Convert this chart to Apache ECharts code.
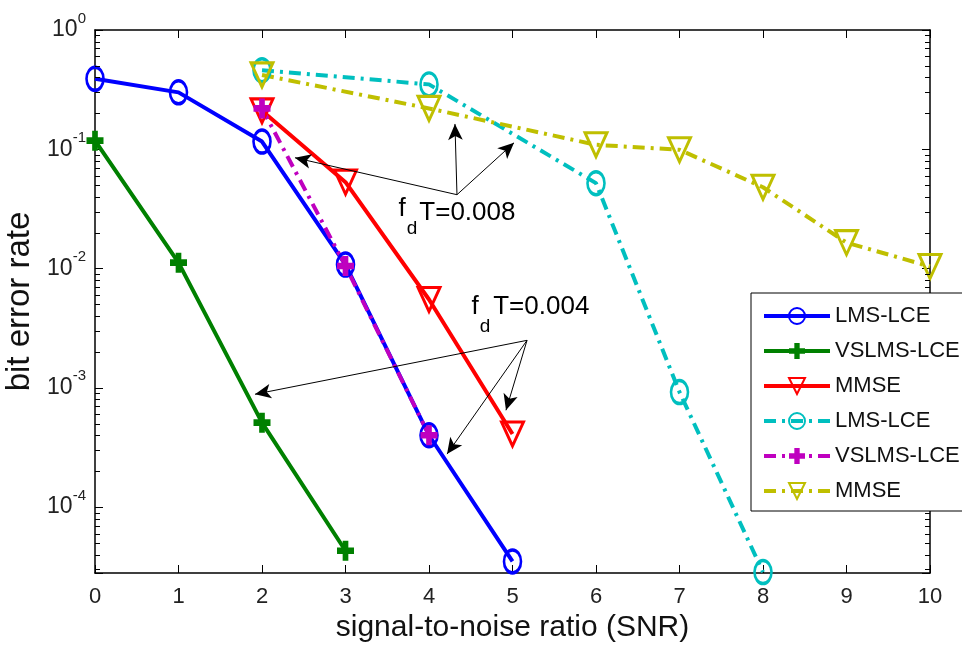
<!DOCTYPE html>
<html>
<head>
<meta charset="utf-8">
<script src="https://cdn.jsdelivr.net/npm/echarts@6/dist/echarts.min.js"></script>
<style>
  html, body { margin: 0; padding: 0; background: #fff; }
  #main { width: 962px; height: 653px; }
</style>
</head>
<body>
<div id="main"></div>
<script>
// ---- Data: bit error rate versus SNR ----
// fd*T = 0.004 (solid lines)
const snrLmsA    = [0, 1, 2, 3, 4, 5];
const berLmsA    = [0.39, 0.30, 0.116, 0.0108, 4.0e-4, 3.5e-5];
const snrVslmsA  = [0, 1, 2, 3];
const berVslmsA  = [0.118, 0.0112, 5.1e-4, 4.3e-5];
const snrMmseA   = [2, 3, 4, 5];
const berMmseA   = [0.21, 0.053, 5.5e-3, 4.1e-4];
// fd*T = 0.008 (dash-dot lines)
const snrLmsB    = [2, 4, 6, 7, 8];
const berLmsB    = [0.46, 0.35, 0.052, 9.2e-4, 2.85e-5];
const snrVslmsB  = [2, 3, 4];
const berVslmsB  = [0.22, 0.0105, 4.0e-4];
const snrMmseB   = [2, 4, 6, 7, 8, 9, 10];
const berMmseB   = [0.42, 0.22, 0.109, 0.099, 0.048, 0.0165, 0.0104];

const legendNames = ['LMS-LCE', 'VSLMS-LCE', 'MMSE', 'LMS-LCE', 'VSLMS-LCE', 'MMSE'];
const xTitle = 'signal-to-noise ratio (SNR)';
const yTitle = 'bit error rate';

// Axis ranges
const X_MIN = 0, X_MAX = 10, X_STEP = 1;
const Y_MIN = 2.8e-5, Y_MAX = 1;
// Minor log ticks: mantissas 2..9 in each decade
const minorMantissas = [2, 3, 4, 5, 6, 7, 8, 9];
const minorDecades = [-5, -4, -3, -2, -1];

// Annotation anchors (data units)
const noteSourceB = [4.335, 0.0416];
const noteTipsB   = [[2.395, 0.0849], [4.311, 0.163], [5.018, 0.1133]];
const noteSourceA = [5.174, 2.50e-3];
const noteTipsA   = [[1.916, 8.83e-4], [4.922, 6.48e-4], [4.216, 2.78e-4]];
const noteTextB = { f: [3.677, 0.0318], d: [3.796, 0.0216], t: [4.46, 0.0294], label: 'T=0.008' };
const noteTextA = { f: [4.551, 4.81e-3], d: [4.671, 3.27e-3], t: [5.345, 4.76e-3], label: 'T=0.004' };

// ---- Styling ----
const FONT = "'Liberation Sans', Arial, Helvetica, sans-serif";
const C = { b: '#0000ff', g: '#008000', r: '#ff0000', c: '#00bfbf', m: '#bf00bf', y: '#bfbf00' };
const DASHDOT = [12, 6, 3, 6];
const PLUS = 'path://M-1,-3L1,-3L1,-1L3,-1L3,1L1,1L1,3L-1,3L-1,1L-3,1L-3,-1L-1,-1Z';

const zip = (xs, ys) => xs.map((x, i) => [x, ys[i]]);

function markerStyle(kind, color) {
  if (kind === 'o') {
    return { symbol: 'circle', symbolSize: [17, 23], symbolRotate: 0,
      itemStyle: { color: 'rgba(0,0,0,0)', borderColor: color, borderWidth: 3 } };
  }
  if (kind === 'v') {
    return { symbol: 'triangle', symbolSize: [22, 24], symbolRotate: 180,
      itemStyle: { color: 'rgba(0,0,0,0)', borderColor: color, borderWidth: 3 } };
  }
  return { symbol: PLUS, symbolSize: [17, 20], symbolRotate: 0,
    itemStyle: { color: color, borderWidth: 0 } };
}

function lineSeries(id, legendIdx, xs, ys, color, kind, dashed) {
  return Object.assign({
    id: id,
    name: legendNames[legendIdx] + '|' + id,
    type: 'line',
    data: zip(xs, ys),
    showAllSymbol: true,
    clip: false,
    animation: false,
    silent: true,
    emphasis: { disabled: true },
    lineStyle: { color: color, width: 4, type: dashed ? DASHDOT : 'solid' },
    z: 3
  }, markerStyle(kind, color));
}

const series = [
  lineSeries('lmsA',   0, snrLmsA,   berLmsA,   C.b, 'o', false),
  lineSeries('vslmsA', 1, snrVslmsA, berVslmsA, C.g, '+', false),
  lineSeries('mmseA',  2, snrMmseA,  berMmseA,  C.r, 'v', false),
  lineSeries('lmsB',   3, snrLmsB,   berLmsB,   C.c, 'o', true),
  lineSeries('vslmsB', 4, snrVslmsB, berVslmsB, C.m, '+', true),
  lineSeries('mmseB',  5, snrMmseB,  berMmseB,  C.y, 'v', true)
];

// Arrows and "f_d T" notes
const arrowPairs = noteTipsB.map(t => [noteSourceB, t]).concat(noteTipsA.map(t => [noteSourceA, t]));
function notePoints(n) {
  const item = (coord, text, size) => ({
    coord: coord, name: text, symbol: 'circle', symbolSize: 1,
    itemStyle: { color: 'rgba(0,0,0,0)' },
    label: { show: true, position: 'inside', formatter: '{b}', fontSize: size, color: '#000', fontFamily: FONT }
  });
  return [item(n.f, 'f', 26), item(n.d, 'd', 19), item(n.t, n.label, 26)];
}
series.push({
  id: 'notes',
  type: 'line',
  data: [],
  silent: true,
  animation: false,
  markLine: {
    silent: true, animation: false,
    symbol: ['none', 'arrow'], symbolSize: [11, 16],
    label: { show: false },
    emphasis: { disabled: true },
    lineStyle: { color: '#000', width: 1, type: 'solid' },
    data: arrowPairs.map(p => [{ coord: p[0] }, { coord: p[1] }])
  },
  markPoint: {
    silent: true, animation: false,
    data: notePoints(noteTextB).concat(notePoints(noteTextA))
  },
  z: 5
});

// Minor log ticks on both vertical sides of the box
const minorTicks = [];
minorDecades.forEach(e => minorMantissas.forEach(m => {
  const v = m * Math.pow(10, e);
  if (v >= Y_MIN && v <= Y_MAX) minorTicks.push([X_MIN, v]);
}));
series.push({
  id: 'minorTicks',
  type: 'custom',
  data: minorTicks,
  silent: true,
  animation: false,
  renderItem: function (params, api) {
    const v = api.value(1);
    const l = api.coord([X_MIN, v]);
    const r = api.coord([X_MAX, v]);
    const y = Math.round(l[1]) + 0.5;
    return {
      type: 'group',
      children: [
        { type: 'line', shape: { x1: l[0], y1: y, x2: l[0] + 5, y2: y }, style: { stroke: '#000', lineWidth: 1 } },
        { type: 'line', shape: { x1: r[0] - 5, y1: y, x2: r[0], y2: y }, style: { stroke: '#000', lineWidth: 1 } }
      ]
    };
  },
  z: 6
});

function logLabel(v) {
  const lg = Math.log10(v);
  const e = Math.round(lg);
  if (Math.abs(lg - e) > 1e-6) return '';
  return '{b|10}{s|' + (e === 0 ? '0' : '-' + (-e)) + '}';
}

const axisLine = { show: true, onZero: false, lineStyle: { color: '#000', width: 1.5 } };
const axisTick = { show: true, inside: true, length: 8, lineStyle: { color: '#000', width: 1 } };

const option = {
  backgroundColor: '#fff',
  animation: false,
  textStyle: { fontFamily: FONT },
  grid: { left: 95, right: 32, top: 30, bottom: 80, containLabel: false, outerBoundsMode: 'none' },
  xAxis: [
    {
      type: 'value', min: X_MIN, max: X_MAX, interval: X_STEP, position: 'bottom',
      axisLine: axisLine, axisTick: axisTick,
      axisLabel: { fontSize: 22, color: '#222', margin: 13, fontFamily: FONT },
      splitLine: { show: false },
      name: xTitle, nameLocation: 'middle', nameGap: 40,
      nameTextStyle: { fontSize: 30, color: '#111', fontFamily: FONT }
    },
    {
      type: 'value', min: X_MIN, max: X_MAX, interval: X_STEP, position: 'top',
      axisLine: axisLine, axisTick: axisTick,
      axisLabel: { show: false }, splitLine: { show: false }
    }
  ],
  yAxis: [
    {
      type: 'log', logBase: 10, min: Y_MIN, max: Y_MAX, position: 'left',
      axisLine: axisLine, axisTick: axisTick,
      axisLabel: {
        formatter: logLabel, margin: 9, color: '#222', fontFamily: FONT,
        rich: {
          b: { fontSize: 23, lineHeight: 38, verticalAlign: 'middle', color: '#222', fontFamily: FONT },
          s: { fontSize: 15, lineHeight: 16, verticalAlign: 'top', color: '#222', fontFamily: FONT }
        }
      },
      splitLine: { show: false }, minorTick: { show: false },
      name: yTitle, nameLocation: 'middle', nameGap: 56, nameRotate: 90,
      nameTextStyle: { fontSize: 33, color: '#111', fontFamily: FONT }
    },
    {
      type: 'log', logBase: 10, min: Y_MIN, max: Y_MAX, position: 'right',
      axisLine: axisLine, axisTick: axisTick,
      axisLabel: { show: false }, splitLine: { show: false }, minorTick: { show: false }
    }
  ],
  legend: {
    orient: 'vertical', left: 751, top: 293,
    padding: [12, 8, 9, 11],
    itemWidth: 66, itemHeight: 20, itemGap: 13,
    backgroundColor: '#fff', borderColor: '#000', borderWidth: 1, borderRadius: 0,
    selectedMode: false,
    lineStyle: { width: 4 },
    textStyle: { fontSize: 22, color: '#111', fontFamily: FONT },
    formatter: n => n.split('|')[0],
    data: series.slice(0, 6).map(s => s.name),
    z: 10
  },
  series: series
};

const chart = echarts.init(document.getElementById('main'), null, { renderer: 'canvas' });
chart.setOption(option);
</script>
</body>
</html>
